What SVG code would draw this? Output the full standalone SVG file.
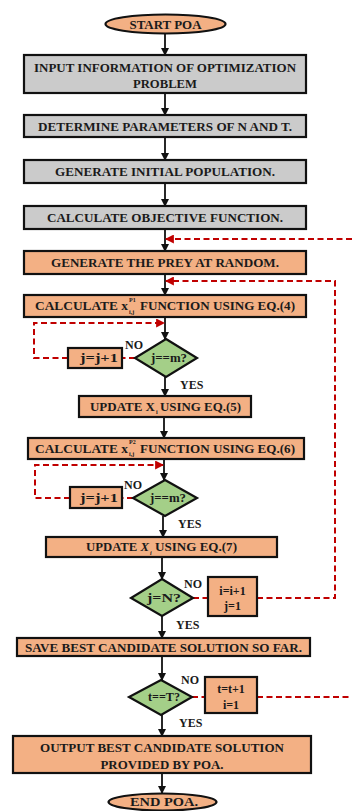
<svg xmlns="http://www.w3.org/2000/svg" width="352" height="811" viewBox="0 0 352 811">
  <defs>
    <marker id="arr" viewBox="0 0 8 8" refX="7" refY="4" markerWidth="4.5" markerHeight="4.5" orient="auto">
      <path d="M0,0 L8,4 L0,8 z" fill="#111"/>
    </marker>
    <marker id="arrRed" viewBox="0 0 8 8" refX="7" refY="4" markerWidth="4.5" markerHeight="4.5" orient="auto">
      <path d="M0,0 L8,4 L0,8 z" fill="#c00000"/>
    </marker>
    <style>
      .gray { fill: #cbcbcb; stroke: #111; stroke-width: 2.2; }
      .orange { fill: #f3b084; stroke: #111; stroke-width: 2.2; }
      .green { fill: #a4cf88; stroke: #111; stroke-width: 2.2; }
      .t { font-family: "Liberation Serif", "Times New Roman", serif; font-weight: bold; font-size: 12px; fill: #1a1a1a; }
      .c { text-anchor: middle; }
      .tiny { font-family: "Liberation Serif", "Times New Roman", serif; font-weight: bold; font-size: 6px; fill: #1a1a1a; }
      .flow { fill: none; stroke: #111; stroke-width: 1.8; marker-end: url(#arr); }
      .loop { fill: none; stroke: #c00000; stroke-width: 2; stroke-dasharray: 6 3.5; }
      .loopArr { fill: none; stroke: #c00000; stroke-width: 2; stroke-dasharray: 6 3.5; marker-end: url(#arrRed); }
    </style>
  </defs>

  <!-- connectors -->
  <g id="connectors">
    <line class="flow" x1="165" y1="33" x2="165" y2="55"/>
    <line class="flow" x1="165" y1="93" x2="165" y2="115"/>
    <line class="flow" x1="165" y1="137" x2="165" y2="160"/>
    <line class="flow" x1="165" y1="183" x2="165" y2="206"/>
    <line class="flow" x1="165" y1="229" x2="165" y2="251"/>
    <line class="flow" x1="165" y1="274" x2="165" y2="295"/>
    <line class="flow" x1="165" y1="317" x2="165" y2="339"/>
    <line class="flow" x1="165" y1="377" x2="165" y2="396"/>
    <line class="flow" x1="164" y1="417" x2="164" y2="438"/>
    <line class="flow" x1="164" y1="459" x2="164" y2="480"/>
    <line class="flow" x1="163" y1="516" x2="163" y2="537"/>
    <line class="flow" x1="162" y1="557" x2="162" y2="579"/>
    <line class="flow" x1="162" y1="616" x2="162" y2="638"/>
    <line class="flow" x1="162" y1="656" x2="162" y2="680"/>
    <line class="flow" x1="162" y1="715" x2="162" y2="736"/>
    <line class="flow" x1="162" y1="773" x2="162" y2="793"/>

    <!-- inner loop j (first) -->
    <line class="loop" x1="135" y1="358" x2="122" y2="358"/>
    <polyline class="loopArr" points="68,358 34,358 34,323 164,323"/>
    <!-- inner loop j (second) -->
    <line class="loop" x1="133" y1="498" x2="122" y2="498"/>
    <polyline class="loopArr" points="70,498 35,498 35,465 163,465"/>
    <!-- loop over i -->
    <line class="loop" x1="193" y1="598" x2="208" y2="598"/>
    <polyline class="loopArr" points="257,598 335,598 335,281 166,281"/>
    <!-- loop over t -->
    <line class="loop" x1="192" y1="697" x2="205" y2="697"/>
    <line class="loop" x1="257" y1="697" x2="352" y2="697"/>
    <line class="loopArr" x1="352" y1="239" x2="166" y2="239"/>
  </g>

  <g id="start">
    <ellipse class="orange" cx="165.5" cy="24" rx="60" ry="9.5"/>
    <text class="t c" x="165.5" y="28.5" textLength="72" lengthAdjust="spacingAndGlyphs">START POA</text>
  </g>

  <g id="input">
    <rect class="gray" x="24" y="55" width="282" height="38"/>
    <text class="t c" x="165" y="71.5" textLength="262" lengthAdjust="spacingAndGlyphs">INPUT INFORMATION OF OPTIMIZATION</text>
    <text class="t c" x="165" y="88" textLength="64" lengthAdjust="spacingAndGlyphs">PROBLEM</text>
  </g>

  <g id="params">
    <rect class="gray" x="24" y="115" width="282" height="22"/>
    <text class="t c" x="165" y="130.5" textLength="254" lengthAdjust="spacingAndGlyphs">DETERMINE PARAMETERS OF N AND T.</text>
  </g>

  <g id="init-pop">
    <rect class="gray" x="24" y="160" width="282" height="23"/>
    <text class="t c" x="165" y="175.5" textLength="220" lengthAdjust="spacingAndGlyphs">GENERATE INITIAL POPULATION.</text>
  </g>

  <g id="objective">
    <rect class="gray" x="24" y="206" width="282" height="23"/>
    <text class="t c" x="165" y="221.5" textLength="236" lengthAdjust="spacingAndGlyphs">CALCULATE OBJECTIVE FUNCTION.</text>
  </g>

  <g id="prey">
    <rect class="orange" x="24" y="251" width="282" height="23"/>
    <text class="t c" x="165" y="266.5" textLength="228" lengthAdjust="spacingAndGlyphs">GENERATE THE PREY AT RANDOM.</text>
  </g>

  <g id="phase1">
    <rect class="orange" x="24" y="295" width="282" height="22"/>
    <text class="t" x="35" y="310" textLength="93" lengthAdjust="spacingAndGlyphs">CALCULATE x</text>
    <text class="tiny" x="129" y="302">P1</text>
    <text class="tiny" x="129" y="314">i,j</text>
    <text class="t" x="140" y="310" textLength="155" lengthAdjust="spacingAndGlyphs">FUNCTION USING EQ.(4)</text>
  </g>

  <g id="check-m1">
    <polygon class="green" points="166,339 197,358 166,377 135,358"/>
    <text class="t c" x="169" y="362" textLength="36" lengthAdjust="spacingAndGlyphs">j==m?</text>
    <text class="t" x="125" y="349">NO</text>
    <text class="t" x="180" y="389">YES</text>
  </g>

  <g id="inc-j1">
    <rect class="orange" x="68" y="348" width="54" height="20"/>
    <text class="t c" x="99" y="362" textLength="38" lengthAdjust="spacingAndGlyphs">j=j+1</text>
  </g>

  <g id="update1">
    <rect class="orange" x="79" y="396" width="172" height="21"/>
    <text class="t" x="90" y="410.5" textLength="65" lengthAdjust="spacingAndGlyphs">UPDATE X</text>
    <text class="tiny" x="156" y="414">i</text>
    <text class="t" x="160" y="410.5" textLength="81" lengthAdjust="spacingAndGlyphs">USING EQ.(5)</text>
  </g>

  <g id="phase2">
    <rect class="orange" x="28" y="438" width="276" height="21"/>
    <text class="t" x="35" y="452.5" textLength="93" lengthAdjust="spacingAndGlyphs">CALCULATE x</text>
    <text class="tiny" x="129" y="444">P2</text>
    <text class="tiny" x="129" y="456">i,j</text>
    <text class="t" x="140" y="452.5" textLength="155" lengthAdjust="spacingAndGlyphs">FUNCTION USING EQ.(6)</text>
  </g>

  <g id="check-m2">
    <polygon class="green" points="165,480 197,498 165,516 133,498"/>
    <text class="t c" x="168" y="502" textLength="36" lengthAdjust="spacingAndGlyphs">j==m?</text>
    <text class="t" x="124" y="489">NO</text>
    <text class="t" x="178" y="528">YES</text>
  </g>

  <g id="inc-j2">
    <rect class="orange" x="70" y="487" width="52" height="21"/>
    <text class="t c" x="99" y="501.5" textLength="38" lengthAdjust="spacingAndGlyphs">j=j+1</text>
  </g>

  <g id="update2">
    <rect class="orange" x="46" y="537" width="231" height="20"/>
    <text class="t" x="86" y="551" textLength="63" lengthAdjust="spacingAndGlyphs">UPDATE <tspan font-style="italic">X</tspan></text>
    <text class="tiny" x="150" y="555" font-style="italic">i</text>
    <text class="t" x="155" y="551" textLength="82" lengthAdjust="spacingAndGlyphs">USING EQ.(7)</text>
  </g>

  <g id="check-n">
    <polygon class="green" points="162,579 193,598 162,616 131,598"/>
    <text class="t c" x="164" y="602" textLength="34" lengthAdjust="spacingAndGlyphs">j=N?</text>
    <text class="t" x="184" y="588">NO</text>
    <text class="t" x="176" y="629">YES</text>
  </g>

  <g id="inc-i">
    <rect class="orange" x="208" y="577" width="49" height="39"/>
    <text class="t c" x="232.5" y="594.5">i=i+1</text>
    <text class="t c" x="232.5" y="610">j=1</text>
  </g>

  <g id="save-best">
    <rect class="orange" x="17" y="638" width="293" height="18"/>
    <text class="t c" x="163.5" y="651.5" textLength="277" lengthAdjust="spacingAndGlyphs">SAVE BEST CANDIDATE SOLUTION SO FAR.</text>
  </g>

  <g id="check-t">
    <polygon class="green" points="161,680 192,697 161,715 129,697"/>
    <text class="t c" x="164" y="701" textLength="32" lengthAdjust="spacingAndGlyphs">t==T?</text>
    <text class="t" x="181" y="684">NO</text>
    <text class="t" x="179" y="727">YES</text>
  </g>

  <g id="inc-t">
    <rect class="orange" x="205" y="677" width="52" height="36"/>
    <text class="t c" x="231" y="693">t=t+1</text>
    <text class="t c" x="231" y="709">i=1</text>
  </g>

  <g id="output">
    <rect class="orange" x="13" y="736" width="298" height="37"/>
    <text class="t c" x="162" y="752" textLength="244" lengthAdjust="spacingAndGlyphs">OUTPUT BEST CANDIDATE SOLUTION</text>
    <text class="t c" x="162" y="768.5" textLength="123" lengthAdjust="spacingAndGlyphs">PROVIDED BY POA.</text>
  </g>

  <g id="end">
    <ellipse class="orange" cx="162.5" cy="802" rx="54" ry="8.5"/>
    <text class="t c" x="164" y="806" textLength="68" lengthAdjust="spacingAndGlyphs">END POA.</text>
  </g>
</svg>
